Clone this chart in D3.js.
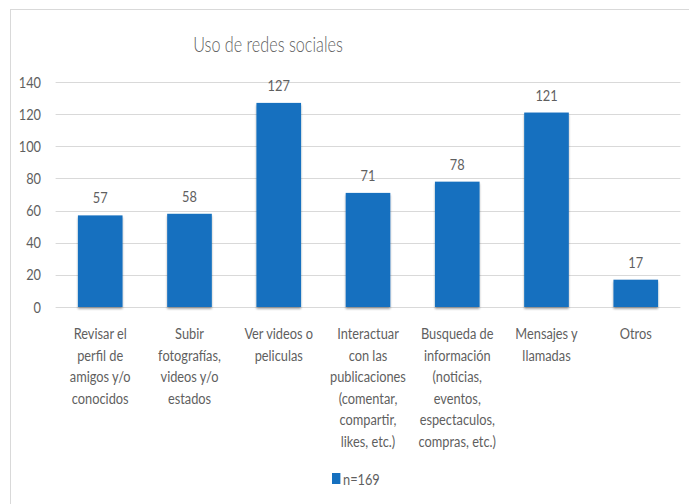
<!DOCTYPE html>
<html><head><meta charset="utf-8">
<script src="https://cdn.jsdelivr.net/npm/d3@7"></script>
<style>body{margin:0;background:#fff}svg{display:block}text{font-family:Lato,"Open Sans",sans-serif;fill:#5f5f5f}</style>
</head><body>
<script>
const categories = [
  ["Revisar el","perfil de","amigos y/o","conocidos"],
  ["Subir","fotografías,","videos y/o","estados"],
  ["Ver videos o","peliculas"],
  ["Interactuar","con las","publicaciones","(comentar,","compartir,","likes, etc.)"],
  ["Busqueda de","información","(noticias,","eventos,","espectaculos,","compras, etc.)"],
  ["Mensajes y","llamadas"],
  ["Otros"]
];
const values = [57, 58, 127, 71, 78, 121, 17];
const yTicks = [0, 20, 40, 60, 80, 100, 120, 140];
const title = "Uso de redes sociales";
const seriesName = "n=169";

const W = 689, H = 504;
const SX = 0.8;      // horizontal squash of the original picture
const FS = 16;
const svg = d3.select("body").append("svg").attr("width", W).attr("height", H);

svg.append("rect").attr("x", 10.5).attr("y", 9.5).attr("width", 700).attr("height", 520)
  .attr("fill", "#fff").attr("stroke", "#d9d9d9");

const x = d3.scaleBand().domain(d3.range(categories.length)).range([55.6, 680.4]).paddingInner(0.5).paddingOuter(0.25);
const y = d3.scaleLinear().domain([0, 140]).range([307, 82]);

svg.append("g").attr("transform", "translate(268,51.5) scale(0.72,1)")
  .append("text").attr("text-anchor", "middle").style("font-size", "22.5px").style("font-weight", 300).text(title);

svg.append("g").selectAll("line").data(yTicks).join("line")
  .attr("x1", 55.6).attr("x2", 680.4)
  .attr("y1", d => Math.round(y(d)) + 0.5).attr("y2", d => Math.round(y(d)) + 0.5)
  .attr("stroke", "#d9d9d9").attr("stroke-width", 1);

const yAxis = svg.append("g").attr("transform", "translate(55.6,0)")
  .call(d3.axisLeft(y).tickValues(yTicks).tickSize(0));
yAxis.select(".domain").remove();
yAxis.selectAll("text").attr("x", -14.6 / SX).attr("transform", `scale(${SX},1)`)
  .style("font-size", FS + "px").attr("fill", "#5f5f5f").style("font-family", "Lato,sans-serif");

svg.append("defs").append("filter").attr("id", "sh").attr("x", "-20%").attr("y", "-20%").attr("width", "140%").attr("height", "140%")
  .html('<feGaussianBlur in="SourceAlpha" stdDeviation="1"/><feOffset dx="0" dy="1.5" result="b"/><feComponentTransfer><feFuncA type="linear" slope="0.35"/></feComponentTransfer><feMerge><feMergeNode/><feMergeNode in="SourceGraphic"/></feMerge>');

svg.append("g").selectAll("rect").data(values).join("rect")
  .attr("x", (d, i) => x(i)).attr("width", x.bandwidth())
  .attr("y", d => y(d)).attr("height", d => y(0) - y(d))
  .attr("fill", "#1570bf").attr("filter", "url(#sh)");

svg.append("g").selectAll("g").data(values).join("g")
  .attr("transform", (d, i) => `translate(${x(i) + x.bandwidth() / 2},${y(d) - 12}) scale(${SX},1)`)
  .append("text").attr("text-anchor", "middle").style("font-size", FS + "px").text(d => d);

const xAxis = svg.append("g").attr("transform", "translate(0,307)")
  .call(d3.axisBottom(x).tickSize(0).tickFormat(""));
xAxis.select(".domain").remove();
xAxis.selectAll(".tick").each(function(i) {
  const t = d3.select(this).append("text").attr("text-anchor", "middle").attr("fill", "#5f5f5f")
    .attr("transform", `scale(${SX},1)`)
    .style("font-size", FS + "px").style("font-family", "Lato,sans-serif");
  categories[i].forEach((ln, k) => {
    t.append("tspan").attr("x", 0).attr("y", 32 + k * 21.6).text(ln);
  });
});

const lg = svg.append("g").attr("transform", "translate(332,473)");
lg.append("rect").attr("width", 8.4).attr("height", 11).attr("fill", "#1570bf");
lg.append("g").attr("transform", `translate(11,11.5) scale(${SX},1)`)
  .append("text").style("font-size", FS + "px").text(seriesName);
</script>
</body></html>
